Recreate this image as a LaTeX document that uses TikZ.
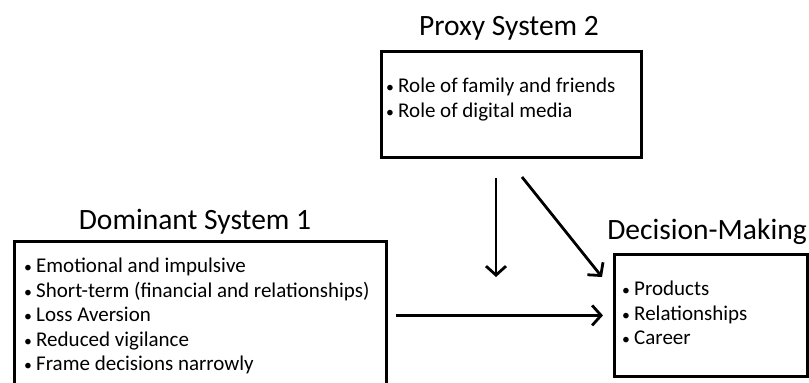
\documentclass[tikz,border=0pt]{standalone}
\usepackage{fontspec}
\setmainfont{Carlito}
\usetikzlibrary{arrows.meta}

% bullet for the lists inside the boxes
\newcommand{\itm}{\makebox[13pt][l]{\hspace{1pt}\scalebox{0.75}{\textbullet}}}

\begin{document}
\begin{tikzpicture}[x=1pt, y=-1pt,
  title/.style={draw=none, font=\fontsize{29.5}{34}\selectfont, inner sep=0pt},
  box/.style={draw=black, line width=2.8pt, inner sep=0pt, anchor=north west},
  list/.style={draw=none, font=\fontsize{21}{24.5}\selectfont, align=left, inner sep=0pt, anchor=north west},
  arr/.style={-{Straight Barb[length=9pt, width=20pt, line width=2.8pt]}, line width=2.8pt}]

% page size of the reference (in px, 1px = 1pt)
\useasboundingbox (0,0) rectangle (809,383);

% Proxy System 2 (top)
\node[title] (proxytitle) at (509,28) {Proxy System 2};
\node[box, minimum width=260, minimum height=106] (proxy) at (380,50) {};
\node[list] (proxylist) at (385,78) {\itm Role of family and friends\\ \itm Role of digital media};

% Dominant System 1 (left, runs off the bottom edge)
\node[title] (domtitle) at (195,222) {Dominant System 1};
\node[box, minimum width=372, minimum height=150] (dom) at (13,240) {};
\node[list] (domlist) at (23,258) {\itm Emotional and impulsive\\
  \itm Short-term (financial and relationships)\\
  \itm Loss Aversion\\
  \itm Reduced vigilance\\
  \itm Frame decisions narrowly};

% Decision-Making (right)
\node[title] (dectitle) at (707,232) {Decision-Making};
\node[box, minimum width=193, minimum height=122] (dec) at (613,253) {};
\node[list] (declist) at (621,281) {\itm Products\\ \itm Relationships\\ \itm Career};

% arrows
\coordinate (downtop) at (496,178);
\coordinate (downend) at (496,277);
\draw[arr] (downtop) -- (downend);

\coordinate (diagtop) at (522,177);
\coordinate (diagend) at (602,277);
\draw[arr] (diagtop) -- (diagend);

\draw[arr, shorten <=8pt, shorten >=10pt] (dom.east |- dec.west) -- (dec.west);
\end{tikzpicture}
\end{document}
